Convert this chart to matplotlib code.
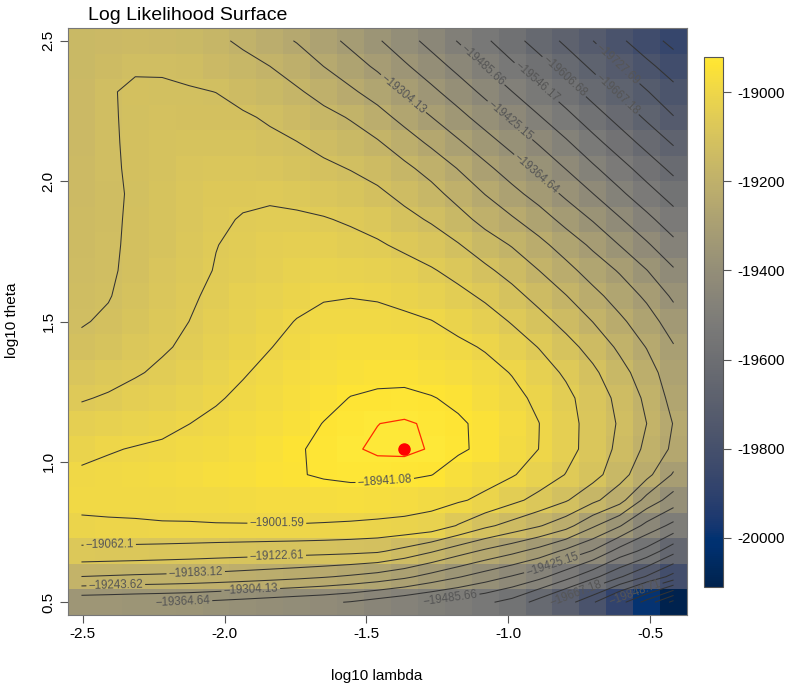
import numpy as np
import matplotlib
matplotlib.use("Agg")
import matplotlib.pyplot as plt

plt.rcParams['font.family'] = ['Liberation Sans', 'DejaVu Sans']
plt.rcParams['axes.unicode_minus'] = False
plt.rcParams['contour.negative_linestyle'] = 'solid'

# grid (log10 lambda, log10 theta) of cell centres
log10_lambda = [-2.5046, -2.4097, -2.3148, -2.2199, -2.125, -2.0301, -1.9352, -1.8403,
                -1.7454, -1.6505, -1.5556, -1.4607, -1.3658, -1.2709, -1.176, -1.0811,
                -0.9862, -0.8913, -0.7964, -0.7015, -0.6066, -0.5117, -0.4168]
log10_theta = [0.5, 0.5909, 0.6818, 0.7727, 0.8636, 0.9545, 1.0455, 1.1364, 1.2273,
               1.3182, 1.4091, 1.5, 1.5909, 1.6818, 1.7727, 1.8636, 1.9545, 2.0455,
               2.1364, 2.2273, 2.3182, 2.4091, 2.5]

# log-likelihood values, one row per theta (bottom to top)
loglik = [
    [-19349, -19353, -19358, -19362, -19367, -19377, -19386, -19396, -19406, -19415, -19429, -19451, -19472, -19494, -19514, -19535, -19567, -19631, -19700, -19780, -19885, -19995, -20110],
    [-19184, -19188, -19192, -19195, -19199, -19204, -19211, -19219, -19228, -19239, -19252, -19268, -19292, -19326, -19360, -19395, -19430, -19468, -19525, -19590, -19660, -19733, -19810],
    [-19078, -19080, -19082, -19085, -19088, -19092, -19095, -19098, -19101, -19104, -19108, -19115, -19141, -19177, -19218, -19255, -19288, -19327, -19378, -19430, -19510, -19566, -19649],
    [-19010, -19008, -19007, -19005, -19005, -19004, -19004, -19004, -19004, -19006, -19009, -19013, -19017, -19026, -19066, -19110, -19144, -19178, -19221, -19295, -19360, -19443, -19503],
    [-18990, -18989, -18988, -18987, -18985, -18983, -18980, -18977, -18973, -18970, -18967, -18969, -18975, -18983, -18995, -19014, -19047, -19081, -19117, -19169, -19222, -19325, -19393],
    [-18994, -18990, -18986, -18980, -18973, -18966, -18960, -18953, -18945, -18935, -18929.5, -18929.3, -18931.8, -18940, -18960, -18980, -18997, -19027, -19064, -19100, -19160, -19225, -19311],
    [-19015, -19005, -18999, -18995, -18986, -18978, -18968, -18957, -18944, -18935, -18925.9, -18922.8, -18921.5, -18925.5, -18935, -18950, -18978, -19002, -19041, -19086, -19137, -19196, -19255],
    [-19041, -19031, -19021, -19012, -19002, -18992, -18981, -18968, -18954, -18940, -18930, -18924.7, -18922.6, -18926.8, -18936, -18950, -18977, -19001, -19041, -19084, -19129, -19183, -19246],
    [-19066, -19057, -19044, -19034, -19021, -19006, -18993, -18979, -18965, -18952, -18940, -18936, -18934, -18939, -18949, -18968, -18988, -19012, -19048, -19090, -19138, -19195, -19264],
    [-19089, -19079, -19067, -19053, -19038, -19022, -19005, -18991, -18977, -18964, -18955, -18950, -18951, -18959, -18970, -18985, -19004, -19037, -19070, -19111, -19162, -19215, -19282],
    [-19112, -19100, -19083, -19068, -19053, -19034, -19017, -19003, -18989, -18976, -18971, -18969, -18971, -18981, -18991, -19006, -19035, -19064, -19102, -19144, -19194, -19246, -19300],
    [-19126, -19116, -19097, -19079, -19062, -19043, -19029, -19013, -19000, -18991, -18987, -18987, -18992, -19000, -19017, -19038, -19066, -19102, -19141, -19184, -19232, -19277, -19334],
    [-19133, -19125, -19106, -19086, -19069, -19052, -19037, -19025, -19013, -19005, -19003, -19006, -19015, -19029, -19047, -19071, -19104, -19142, -19181, -19226, -19269, -19315, -19375],
    [-19139, -19128, -19113, -19092, -19075, -19060, -19050, -19039, -19027, -19023, -19024, -19032, -19042, -19057, -19080, -19111, -19144, -19183, -19225, -19269, -19310, -19363, -19419],
    [-19141, -19129, -19115, -19098, -19081, -19063, -19054, -19046, -19041, -19042, -19047, -19056, -19072, -19093, -19119, -19154, -19187, -19227, -19270, -19315, -19366, -19417, -19470],
    [-19144, -19131, -19115, -19100, -19085, -19070, -19059, -19054, -19054, -19059, -19068, -19082, -19106, -19129, -19162, -19202, -19237, -19276, -19323, -19369, -19420, -19470, -19521],
    [-19146, -19131, -19117, -19101, -19087, -19074, -19071, -19069, -19076, -19084, -19097, -19112, -19138, -19164, -19204, -19245, -19286, -19328, -19376, -19424, -19474, -19523, -19571],
    [-19147, -19129, -19116, -19103, -19089, -19087, -19087, -19091, -19102, -19111, -19125, -19144, -19170, -19204, -19246, -19290, -19334, -19380, -19427, -19476, -19524, -19573, -19622],
    [-19149, -19129, -19114, -19103, -19102, -19102, -19102, -19111, -19121, -19139, -19158, -19177, -19214, -19254, -19296, -19340, -19384, -19430, -19477, -19527, -19576, -19625, -19673],
    [-19150, -19126, -19117, -19110, -19112, -19112, -19116, -19129, -19148, -19167, -19187, -19221, -19262, -19303, -19346, -19390, -19435, -19481, -19528, -19578, -19627, -19676, -19725],
    [-19153, -19128, -19112, -19117, -19119, -19123, -19140, -19158, -19176, -19202, -19234, -19268, -19310, -19351, -19394, -19439, -19485, -19531, -19579, -19629, -19677, -19724, -19770],
    [-19155, -19140, -19130, -19127, -19134, -19149, -19165, -19183, -19209, -19244, -19278, -19314, -19356, -19398, -19442, -19488, -19535, -19582, -19630, -19678, -19727, -19773, -19818],
    [-19158, -19152, -19148, -19150, -19157, -19172, -19193, -19220, -19247, -19282, -19318, -19358, -19401, -19445, -19489, -19536, -19585, -19632, -19679, -19727, -19777, -19824, -19865],
]

contour_levels = [-18941.08, -19001.59, -19062.10, -19122.61, -19183.12, -19243.62, -19304.13,
                  -19364.64, -19425.15, -19485.66, -19546.17, -19606.68, -19667.18, -19727.69,
                  -19788.20, -19848.71, -19909.22, -19969.73, -20030.23, -20090.74]
red_level = -18924.5
cbar_ticks = [-20000, -19800, -19600, -19400, -19200, -19000]
x_ticks = [-2.5, -2.0, -1.5, -1.0, -0.5]
y_ticks = [0.5, 1.0, 1.5, 2.0, 2.5]

xs = np.array(log10_lambda)
ys = np.array(log10_theta)
Z = np.array(loglik, dtype=float)

W, H = 800, 685
fig = plt.figure(figsize=(8, 6.85), dpi=100)
ax = fig.add_axes([68 / W, 1 - 615 / H, 619 / W, 587 / H])
mesh = ax.pcolormesh(xs, ys, Z, cmap='cividis', shading='nearest', vmin=Z.min(), vmax=Z.max())
ax.contour(xs, ys, Z, levels=[red_level], colors='#ff2a00', linewidths=0.9)
jm, im = np.unravel_index(np.argmax(Z), Z.shape)
ax.plot([xs[im]], [ys[jm]], 'o', color='#ff0000', ms=8, zorder=5)


def d(px, py):
    return (-2.5 + (px - 83) / 283.5, 0.5 + (603 - py) / 280)


label_pos = {0: [(385, 483)], 1: [(277, 525)], 2: [(110, 547.7)], 3: [(277, 560)], 4: [(196, 575)],
             5: [(116, 586.7)], 6: [(251, 591.7), (405, 94)], 7: [(183, 603), (538, 174)],
             8: [(512, 120), (553, 567)], 9: [(483, 67), (450, 596)], 10: [(537, 84)], 11: [(565, 78)],
             12: [(617, 97), (575, 590)], 13: [(618, 66)], 15: [(634, 591)]}
fmt = lambda v: ("%.2f" % v).rstrip('0').rstrip('.').replace('-', '\u2212')
for k, lev in enumerate(contour_levels):
    c = ax.contour(xs, ys, Z, levels=[lev], colors='#333333', linewidths=0.75)
    if k in label_pos:
        try:
            ax.clabel(c, manual=[d(a, b) for a, b in label_pos[k]], fmt=fmt, fontsize=8.3,
                      colors='#555555', inline=True, inline_spacing=2)
        except Exception:
            pass

dx = (xs[1] - xs[0]) / 2
dy = (ys[1] - ys[0]) / 2
ax.set_xlim(xs[0] - dx, xs[-1] + dx)
ax.set_ylim(ys[0] - dy, ys[-1] + dy)
ax.set_xticks(x_ticks)
ax.set_yticks(y_ticks)
ax.tick_params(length=6, width=0.8, color='#555555', labelsize=11, pad=3)
for lbl in ax.get_yticklabels():
    lbl.set_rotation(90)
    lbl.set_va('center')
for s in ax.spines.values():
    s.set_color('#777777')
    s.set_linewidth(0.8)

cax = fig.add_axes([704 / W, 1 - 587 / H, 19 / W, 530 / H])
cb = fig.colorbar(mesh, cax=cax, ticks=cbar_ticks)
cb.ax.tick_params(length=6, width=0.8, color='#555555', labelsize=11, pad=4)
cb.outline.set_edgecolor('#555555')
cb.outline.set_linewidth(0.8)

fig.text(88 / W, 1 - 20 / H, "Log Likelihood Surface", fontsize=14, ha='left', va='baseline')
fig.text(377 / W, 1 - 676 / H, "log10 lambda", fontsize=11, ha='center', va='center')
fig.text(12 / W, 1 - 320 / H, "log10 theta", fontsize=11, ha='center', va='center', rotation=90)

fig.savefig("out.png", dpi=100)
